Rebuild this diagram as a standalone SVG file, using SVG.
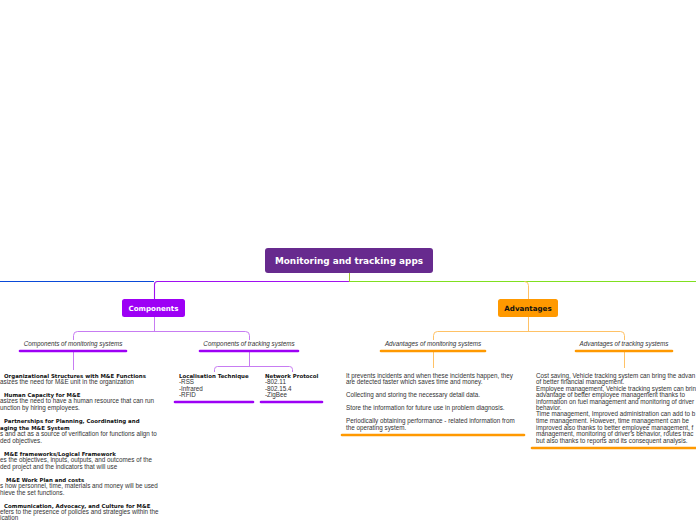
<svg xmlns="http://www.w3.org/2000/svg" width="696" height="520" viewBox="0 0 696 520">
<style>
.b{font-family:"DejaVu Sans",Verdana,sans-serif;font-weight:bold}
.t{font-family:"Liberation Sans",Arial,sans-serif;font-size:6.3px;fill:#333}
.h{font-family:"DejaVu Sans",Verdana,sans-serif;font-weight:bold;font-size:5.45px;fill:#111}
.i{font-family:"Liberation Sans",Arial,sans-serif;font-style:italic;font-size:6.3px;fill:#333;text-anchor:middle}
.lp{fill:none;stroke:#c77cf2;stroke-width:1}
.lo{fill:none;stroke:#ffc266;stroke-width:1}
.bp{stroke:#9d00f5;stroke-width:2.6;stroke-linecap:round}
.bo{stroke:#ff9900;stroke-width:2.6;stroke-linecap:round}
</style>
<rect width="696" height="520" fill="#fff"/>
<g id="connectors">
<line x1="0" y1="281.5" x2="154" y2="281.5" stroke="#0a4ad8" stroke-width="1.1"/>
<path d="M349 281.5 H157.5 Q154.5 281.5 154.5 284.5 V299" fill="none" stroke="#a010f0" stroke-width="1.1"/>
<line x1="349" y1="281.5" x2="696" y2="281.5" stroke="#80e020" stroke-width="1.1"/>
<line x1="349.5" y1="273" x2="349.5" y2="281.5" stroke="#a0c030" stroke-width="1"/>
<path d="M524.5 281.5 Q528.5 281.5 528.5 285.5 V299" class="lo"/>
<path d="M154.5 317 V331.5" class="lp"/>
<path d="M73.5 340 V335.5 Q73.5 331.5 77.5 331.5 H245.5 Q249.5 331.5 249.5 335.5 V340" class="lp"/>
<line x1="73.5" y1="352" x2="73.5" y2="370" class="lp"/>
<line x1="249.5" y1="352" x2="249.5" y2="366.5" class="lp"/>
<path d="M214.5 372 V369.5 Q214.5 366.5 217.5 366.5 H289.5 Q292.5 366.5 292.5 369.5 V372" class="lp"/>
<path d="M528.5 317 V331.5" class="lo"/>
<path d="M433.5 340 V335.5 Q433.5 331.5 437.5 331.5 H620.5 Q624.5 331.5 624.5 335.5 V340" class="lo"/>
<line x1="433.5" y1="352" x2="433.5" y2="368" class="lo"/>
<line x1="624.5" y1="352" x2="624.5" y2="368" class="lo"/>
</g>
<g id="root">
<rect x="265" y="248" width="168" height="25" rx="3" fill="#672a8e"/>
<text x="349" y="264" class="b" font-size="8.9" fill="#fff" text-anchor="middle">Monitoring and tracking apps</text>
</g>
<g id="components">
<rect x="122" y="299" width="63" height="18" rx="2.5" fill="#9d00f5"/>
<text x="153.5" y="310.6" class="b" font-size="7.1" fill="#fff" text-anchor="middle">Components</text>
</g>
<g id="advantages">
<rect x="498" y="299" width="60" height="18" rx="2.5" fill="#ff9900"/>
<text x="528" y="310.6" class="b" font-size="7.1" fill="#111" text-anchor="middle">Advantages</text>
</g>
<g id="comp-monitoring">
<text x="73" y="346" class="i">Components of monitoring systems</text>
<line x1="20" y1="351" x2="126" y2="351" class="bp"/>
</g>
<g id="comp-tracking">
<text x="249" y="346" class="i">Components of tracking systems</text>
<line x1="200" y1="351" x2="298" y2="351" class="bp"/>
</g>
<g id="adv-monitoring">
<text x="433" y="346" class="i">Advantages of monitoring systems</text>
<line x1="381" y1="351" x2="485" y2="351" class="bo"/>
</g>
<g id="adv-tracking">
<text x="624" y="346" class="i">Advantages of tracking systems</text>
<line x1="576" y1="351" x2="672" y2="351" class="bo"/>
</g>
<g id="monitoring-components">
<text x="4" y="378" class="h">Organizational Structures with M&amp;E Functions</text>
<text x="0" y="384" class="t">asizes the need for M&amp;E unit in the organization</text>
<text x="4" y="397" class="h">Human Capacity for M&amp;E</text>
<text x="0" y="403" class="t">asizes the need to have a human resource that can run</text>
<text x="0" y="410" class="t">unction by hiring employees.</text>
<text x="4" y="423" class="h">Partnerships for Planning, Coordinating and</text>
<text x="0" y="430" class="h">aging the M&amp;E System</text>
<text x="0" y="436" class="t">s and act as a source of verification for functions align to</text>
<text x="0" y="443" class="t">ded objectives.</text>
<text x="4" y="456" class="h">M&amp;E frameworks/Logical Framework</text>
<text x="0" y="462" class="t">es the objectives, inputs, outputs, and outcomes of the</text>
<text x="0" y="469" class="t">ded project and the indicators that will use</text>
<text x="6" y="482" class="h">M&amp;E Work Plan and costs</text>
<text x="0" y="488" class="t">s how personnel, time, materials and money will be used</text>
<text x="0" y="495" class="t">hieve the set functions.</text>
<text x="4" y="508" class="h">Communication, Advocacy, and Culture for M&amp;E</text>
<text x="0" y="514" class="t">efers to the presence of policies and strategies within the</text>
<text x="0" y="519.5" class="t">ication</text>
</g>
<g id="localisation">
<text x="179" y="378" class="h">Localisation Technique</text>
<text x="179" y="384" class="t">-RSS</text>
<text x="179" y="391" class="t">-Infrared</text>
<text x="179" y="397" class="t">-RFID</text>
<line x1="175" y1="402" x2="253" y2="402" class="bp"/>
</g>
<g id="network">
<text x="265" y="378" class="h">Network Protocol</text>
<text x="265" y="384" class="t">-802.11</text>
<text x="265" y="391" class="t">-802.15.4</text>
<text x="265" y="397" class="t">-ZigBee</text>
<line x1="261" y1="402" x2="322" y2="402" class="bp"/>
</g>
<g id="monitoring-advantages">
<text x="346" y="378" class="t">It prevents incidents and when these incidents happen, they</text>
<text x="346" y="384" class="t">are detected faster which saves time and money.</text>
<text x="346" y="397" class="t">Collecting and storing the necessary detail data.</text>
<text x="346" y="410" class="t">Store the information for future use in problem diagnosis.</text>
<text x="346" y="423" class="t">Periodically obtaining performance - related information from</text>
<text x="346" y="430" class="t">the operating system.</text>
<line x1="342" y1="435" x2="524" y2="435" class="bo"/>
</g>
<g id="tracking-advantages">
<text x="536" y="378" class="t">Cost saving, Vehicle tracking system can bring the advan</text>
<text x="536" y="384" class="t">of better financial management.</text>
<text x="536" y="391" class="t">Employee management, Vehicle tracking system can brin</text>
<text x="536" y="397" class="t">advantage of better employee management thanks to</text>
<text x="536" y="404" class="t">information on fuel management and monitoring of driver</text>
<text x="536" y="410" class="t">behavior.</text>
<text x="536" y="416" class="t">Time management, Improved administration can add to b</text>
<text x="536" y="423" class="t">time management. However, time management can be</text>
<text x="536" y="430" class="t">improved also thanks to better employee management, f</text>
<text x="536" y="436" class="t">management, monitoring of driver's behavior, routes trac</text>
<text x="536" y="443" class="t">but also thanks to reports and its consequent analysis.</text>
<line x1="532" y1="448" x2="700" y2="448" class="bo"/>
</g>
</svg>
